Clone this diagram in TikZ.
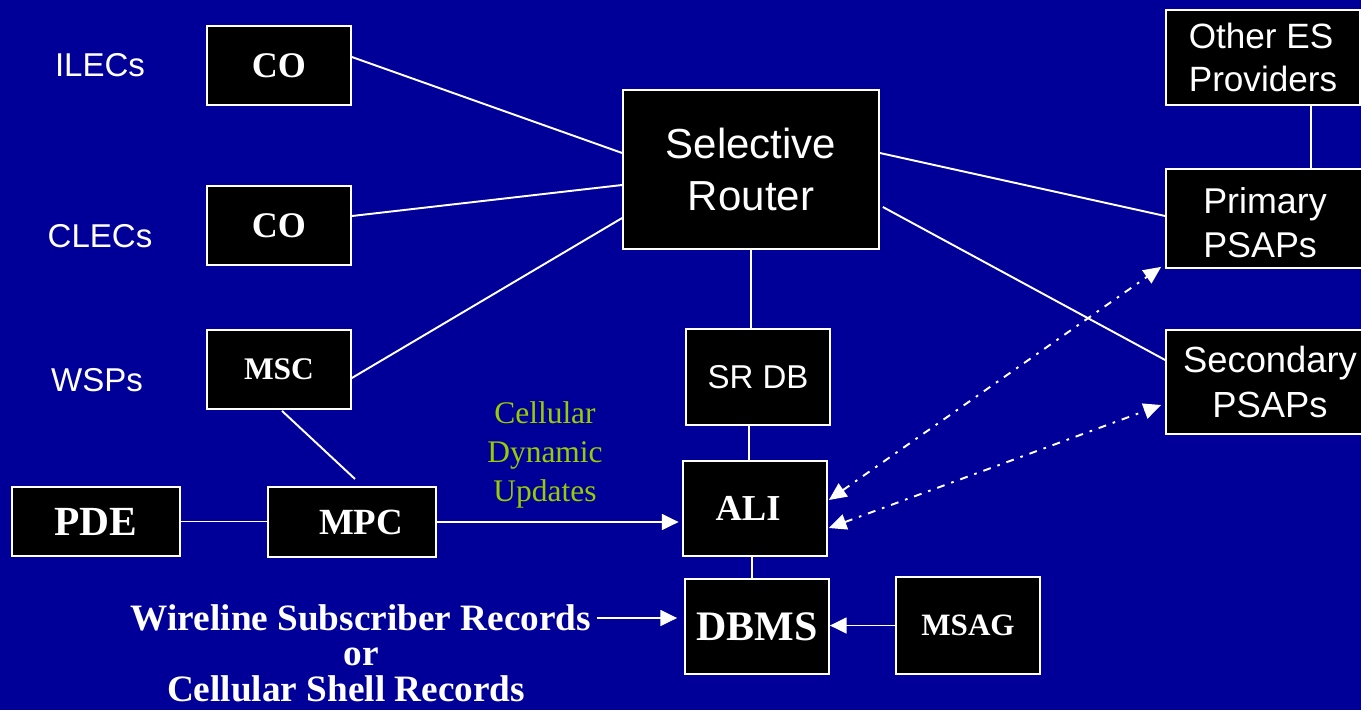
\documentclass[tikz,border=0pt]{standalone}
\usepackage{fontspec}
\setmainfont{Liberation Serif}
\setsansfont{Liberation Sans}
\usetikzlibrary{arrows.meta,calc}
\definecolor{bgblue}{RGB}{0,0,153}
\definecolor{updgreen}{RGB}{153,204,0}
\begin{document}
\begin{tikzpicture}[x=0.02cm,y=-0.02cm,
  box/.style={draw=white,line width=1pt,fill=black,text=white,inner sep=0pt,align=center},
  serifbox/.style={box,font=\bfseries\fontsize{#1}{#1}\selectfont},
  sansbox/.style={box,font=\sffamily\fontsize{#1}{1.22\dimexpr#1pt\relax}\selectfont},
  sidelabel/.style={text=white,font=\sffamily\fontsize{18.8}{22}\selectfont,inner sep=0pt},
  conn/.style={draw=white,line width=1.1pt},
  arrowed/.style={conn,-{Triangle[length=9.5pt,width=9pt]}},
  dashdot link/.style={conn,dash pattern=on 4.5pt off 4pt on 1.5pt off 4pt,
    {Triangle[length=10pt,width=9pt]}-{Triangle[length=10pt,width=9pt]}}]

% background and page size
\fill[bgblue] (0,0) rectangle (1361,710);
\useasboundingbox (0,0) rectangle (1361,710);

% carrier labels
\node[sidelabel] (ilec) at (100,65) {ILECs};
\node[sidelabel] (clec) at (100,236) {CLECs};
\node[sidelabel] (wsp) at (97,380) {WSPs};

% switching offices
\node[serifbox=20.5,minimum width=2.88cm,minimum height=1.58cm] (co1) at (279,65.5) {CO};
\node[serifbox=20.5,minimum width=2.88cm,minimum height=1.58cm] (co2) at (279,225.5) {CO};
\node[serifbox=17.9,minimum width=2.88cm,minimum height=1.58cm] (msc) at (279,369.5) {MSC};

% routing and answering points
\node[sansbox=23.9,minimum width=5.12cm,minimum height=3.18cm] (sr) at (751,169.5) {Selective\\Router};
\node[sansbox=20,minimum width=3.88cm,minimum height=1.9cm,align=left] (other) at (1263,57.5) {Other ES\\Providers};
\node[sansbox=20.4,minimum width=3.96cm,minimum height=1.98cm,align=left] (prim) at (1265,218.5) {\rule{0pt}{0.7cm}Primary\\PSAPs};
\node[sansbox=20.7,minimum width=4.16cm,minimum height=2.08cm] (sec) at (1270,382) {Secondary\\PSAPs};
\node[sansbox=18.8,minimum width=2.88cm,minimum height=1.92cm] (srdb) at (758,377) {SR DB};

% location databases
\node[serifbox=20.8,minimum width=2.88cm,minimum height=1.9cm] (ali) at (755,508.5) {ALI\hspace*{0.28cm}};
\node[serifbox=23.9,minimum width=2.88cm,minimum height=1.9cm] (dbms) at (757,626.5) {DBMS};
\node[serifbox=17.7,minimum width=2.88cm,minimum height=1.94cm] (msag) at (968,625.5) {MSAG};
\node[serifbox=23.6,minimum width=3.36cm,minimum height=1.38cm] (pde) at (96,521.5) {PDE};
\node[serifbox=21,minimum width=3.36cm,minimum height=1.4cm] (mpc) at (352,522) {\hspace*{0.36cm}MPC};

% annotations
\node[text=updgreen,align=center,inner sep=0pt,font=\fontsize{17.9}{22.1}\selectfont] (cdu) at (545,455) {Cellular\\Dynamic\\Updates};
\node[text=white,inner sep=3pt,font=\bfseries\fontsize{21.2}{22}\selectfont] (wl1) at (361,618) {Wireline Subscriber Records};
\node[text=white,inner sep=0pt,font=\bfseries\fontsize{21.2}{22}\selectfont] (wl2) at (361,657) {or};
\node[text=white,inner sep=0pt,font=\bfseries\fontsize{21.2}{22}\selectfont] (wl3) at (346,689) {Cellular Shell Records};

% trunks into the selective router
\draw[conn] ($(co1.east)+(0,-8.5)$) -- ($(sr.west)+(0,-16.5)$);
\draw[conn] ($(co2.east)+(0,-9.5)$) -- ($(sr.west)+(0,15.5)$);
\draw[conn] ($(msc.east)+(0,8.5)$) -- ($(sr.west)+(0,48.5)$);
\draw[conn] ($(sr.east)+(0,-16.5)$) -- ($(prim.west)+(0,-2.5)$);
\draw[conn] ($(sr.east)+(3,37.5)$) -- ($(sec.west)+(0,-22)$);

% vertical links
\draw[conn] (sr.south) -- (sr.south |- srdb.north);
\coordinate (dbdrop) at ($(srdb.south)+(-9,0)$);
\draw[conn] (dbdrop) -- (dbdrop |- ali.north);
\coordinate (alidrop) at ($(ali.south)+(-3,0)$);
\draw[conn] (alidrop) -- (alidrop |- dbms.north);
\coordinate (esdrop) at ($(other.south)+(48,0)$);
\draw[conn] (esdrop) -- (esdrop |- prim.north);

% wireless positioning
\coordinate (mscfoot) at ($(msc.south)+(3,1)$);
\coordinate (mpcjoin) at (355,479);
\draw[conn] (mscfoot) -- (mpcjoin);
\draw[conn] (pde.east) -- (pde.east -| mpc.west);
\draw[arrowed,shorten >=2pt] (mpc.east) -- (mpc.east -| ali.west);

% record feeds
\draw[arrowed,shorten >=4pt] (wl1.east) -- (wl1.east -| dbms.west);
\draw[arrowed] (msag.west) -- (msag.west -| dbms.east);

% ALI data to the PSAPs
\draw[dashdot link] ($(ali.east)+(1,-8.5)$) -- ($(prim.south west)+(-4,-2)$);
\draw[dashdot link] ($(ali.east)+(1,19.5)$) -- ($(sec.west)+(-4,23)$);
\end{tikzpicture}
\end{document}
